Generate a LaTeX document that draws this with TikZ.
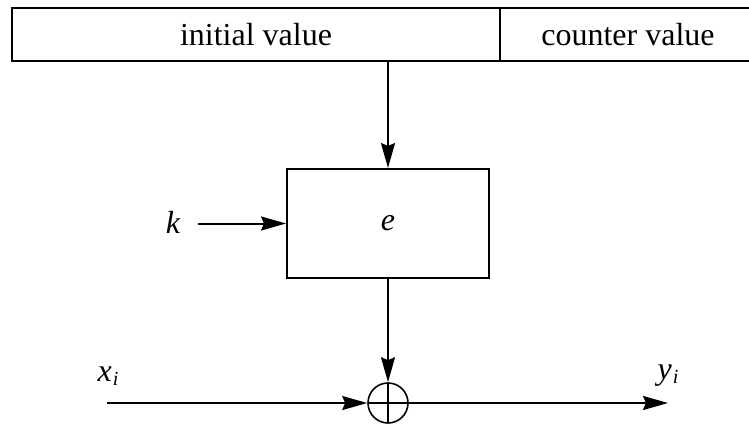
\documentclass[tikz,border=0pt]{standalone}
\usepackage{fontspec}
\setmainfont{LiberationSerif}[Extension=.ttf, UprightFont=*-Regular, ItalicFont=*-Italic, BoldFont=*-Bold, BoldItalicFont=*-BoldItalic]
\usetikzlibrary{arrows.meta}
\tikzset{
  cell/.style={draw=black, line width=2pt, minimum height=53pt, inner sep=0pt, font=\fontsize{32}{36}\selectfont},
  ebox/.style={draw=black, line width=2pt, minimum width=202pt, minimum height=109pt, inner sep=0pt, font=\fontsize{32}{36}\selectfont\itshape},
  lbl/.style={inner sep=0pt, font=\fontsize{32}{36}\selectfont\itshape},
  xorc/.style={circle, draw=black, line width=1.6pt, minimum size=40pt, inner sep=0pt,
    path picture={\draw[line width=1.6pt] (path picture bounding box.north) -- (path picture bounding box.south)
      (path picture bounding box.west) -- (path picture bounding box.east);}},
  conn/.style={line width=2pt, -{Stealth[length=25pt, width=14pt, inset=3pt]}}
}
\begin{document}
\begin{tikzpicture}[x=1pt, y=1pt]
\useasboundingbox (0,0) rectangle (749,-425);
\clip (0,0) rectangle (749,-425);
\node[cell, minimum width=488pt] (init) at (256,-34.5) {initial value};
\node[cell, minimum width=256pt] (counter) at (628,-34.5) {counter value};
\node[ebox] (e) at (388,-223.5) {e};
\node[lbl] (k) at (173,-222) {k};
\coordinate (kin) at (198,-223.5);
\node[xorc] (x) at (388,-403) {};
\node[lbl] (xi) at (108,-376) {x\kern1pt\raisebox{-4pt}{\fontsize{20}{22}\selectfont i}};
\node[lbl] (yi) at (668,-376) {y\kern1pt\raisebox{-4pt}{\fontsize{20}{22}\selectfont i}};
\coordinate (xin) at (107,-403);
\coordinate (yout) at (668,-403);
\coordinate (ctop) at (388,-61);
\draw[conn] (ctop) -- (e.north);
\draw[conn] (kin) -- (e.west);
\draw[conn] (e.south) -- (x.north);
\draw[conn] (xin) -- (x.west);
\draw[conn] (x.east) -- (yout);
\end{tikzpicture}
\end{document}
